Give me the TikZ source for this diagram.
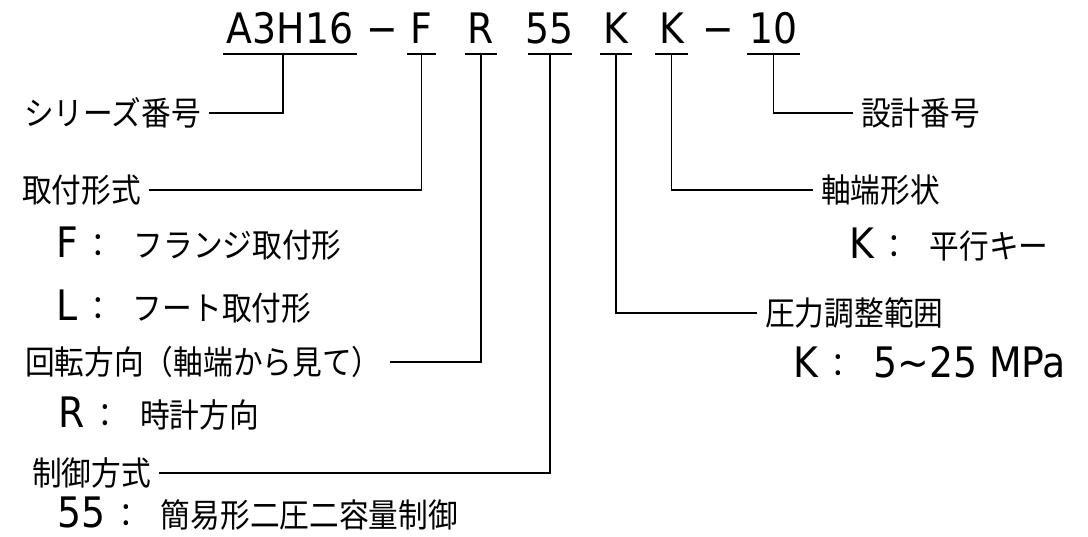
\documentclass[tikz,border=0pt]{standalone}
\usepackage{fontspec}
\usepackage{tikz}
\newfontfamily\latinfont{DejaVu Sans Condensed}
\newfontfamily\jpfont[FakeStretch=0.9]{Noto Sans CJK JP}
\newcommand\latn[1]{{\latinfont\fontsize{42pt}{44pt}\selectfont #1}}
\newcommand\choice[2]{\latn{#1}\hspace{6pt}：\hspace{20pt}#2}

\begin{document}
\begin{tikzpicture}[x=1pt,y=-1pt,
   part/.style={font=\latinfont\fontsize{42pt}{44pt}\selectfont,anchor=base,inner sep=0pt},
   lbl/.style={font=\jpfont\fontsize{33pt}{35pt}\selectfont,inner xsep=8pt,inner ysep=0pt},
   opt/.style={font=\jpfont\fontsize{33pt}{35pt}\selectfont,anchor=base west,inner sep=0pt},
   lead/.style={line width=1.5pt}]
\useasboundingbox (0,0) rectangle (1088,536);
% model code with underlines
\foreach \n/\1/\x/\w in %
{a/A3H16/290/67,f/F/421.5/14.5,r/R/481/16,c/55/550/22,k/K/616/16,kk/K/671.5/16.5,d/10/773.5/26.5} {
   \node[part] (\n) at (\x,43) {\1};
   \coordinate (\n-u) at (\x,54);
   \draw[lead] ([xshift=-\w pt]\n-u) -- ([xshift=\w pt]\n-u);
}
\node[part] (dash1) at (382,43) {−};
\node[part] (dash2) at (718,43) {−};
% left side
\node[lbl,anchor=west] (series) at (16,113) {シリーズ番号};
\node[lbl,anchor=west] (mount) at (14,190) {取付形式};
\node[opt] (flange) at (56,257) {\choice{F}{フランジ取付形}};
\node[opt] (foot) at (56,320) {\choice{L}{フート取付形}};
\node[lbl,anchor=west] (turn) at (17,362) {回転方向（軸端から見て）};
\node[opt] (cw) at (58,427) {\choice{R}{時計方向}};
\node[lbl,anchor=west] (ctrl) at (24,473) {制御方式};
\node[opt] (twostep) at (57,527) {\choice{55}{簡易形二圧二容量制御}};
% right side
\node[lbl,anchor=west] (design) at (853,113) {設計番号};
\node[lbl,anchor=west] (shaft) at (813,190) {軸端形状};
\node[opt] (key) at (849,258) {\choice{K}{平行キー}};
\node[lbl,anchor=west] (press) at (757,313) {圧力調整範囲};
\node[opt] (range) at (793,377) {\choice{K}{\latn{5\textasciitilde25 MPa}}};
% leaders
\draw[lead] ([xshift=-7pt]a-u) |- (series.east);
\draw[lead] (f-u) |- (mount.east);
\draw[lead] (r-u) |- (turn.east);
\draw[lead] (c-u) |- (ctrl.east);
\draw[lead] (k-u) |- (press.west);
\draw[lead] (kk-u) |- (shaft.west);
\draw[lead] (d-u) |- (design.west);
\end{tikzpicture}
\end{document}
